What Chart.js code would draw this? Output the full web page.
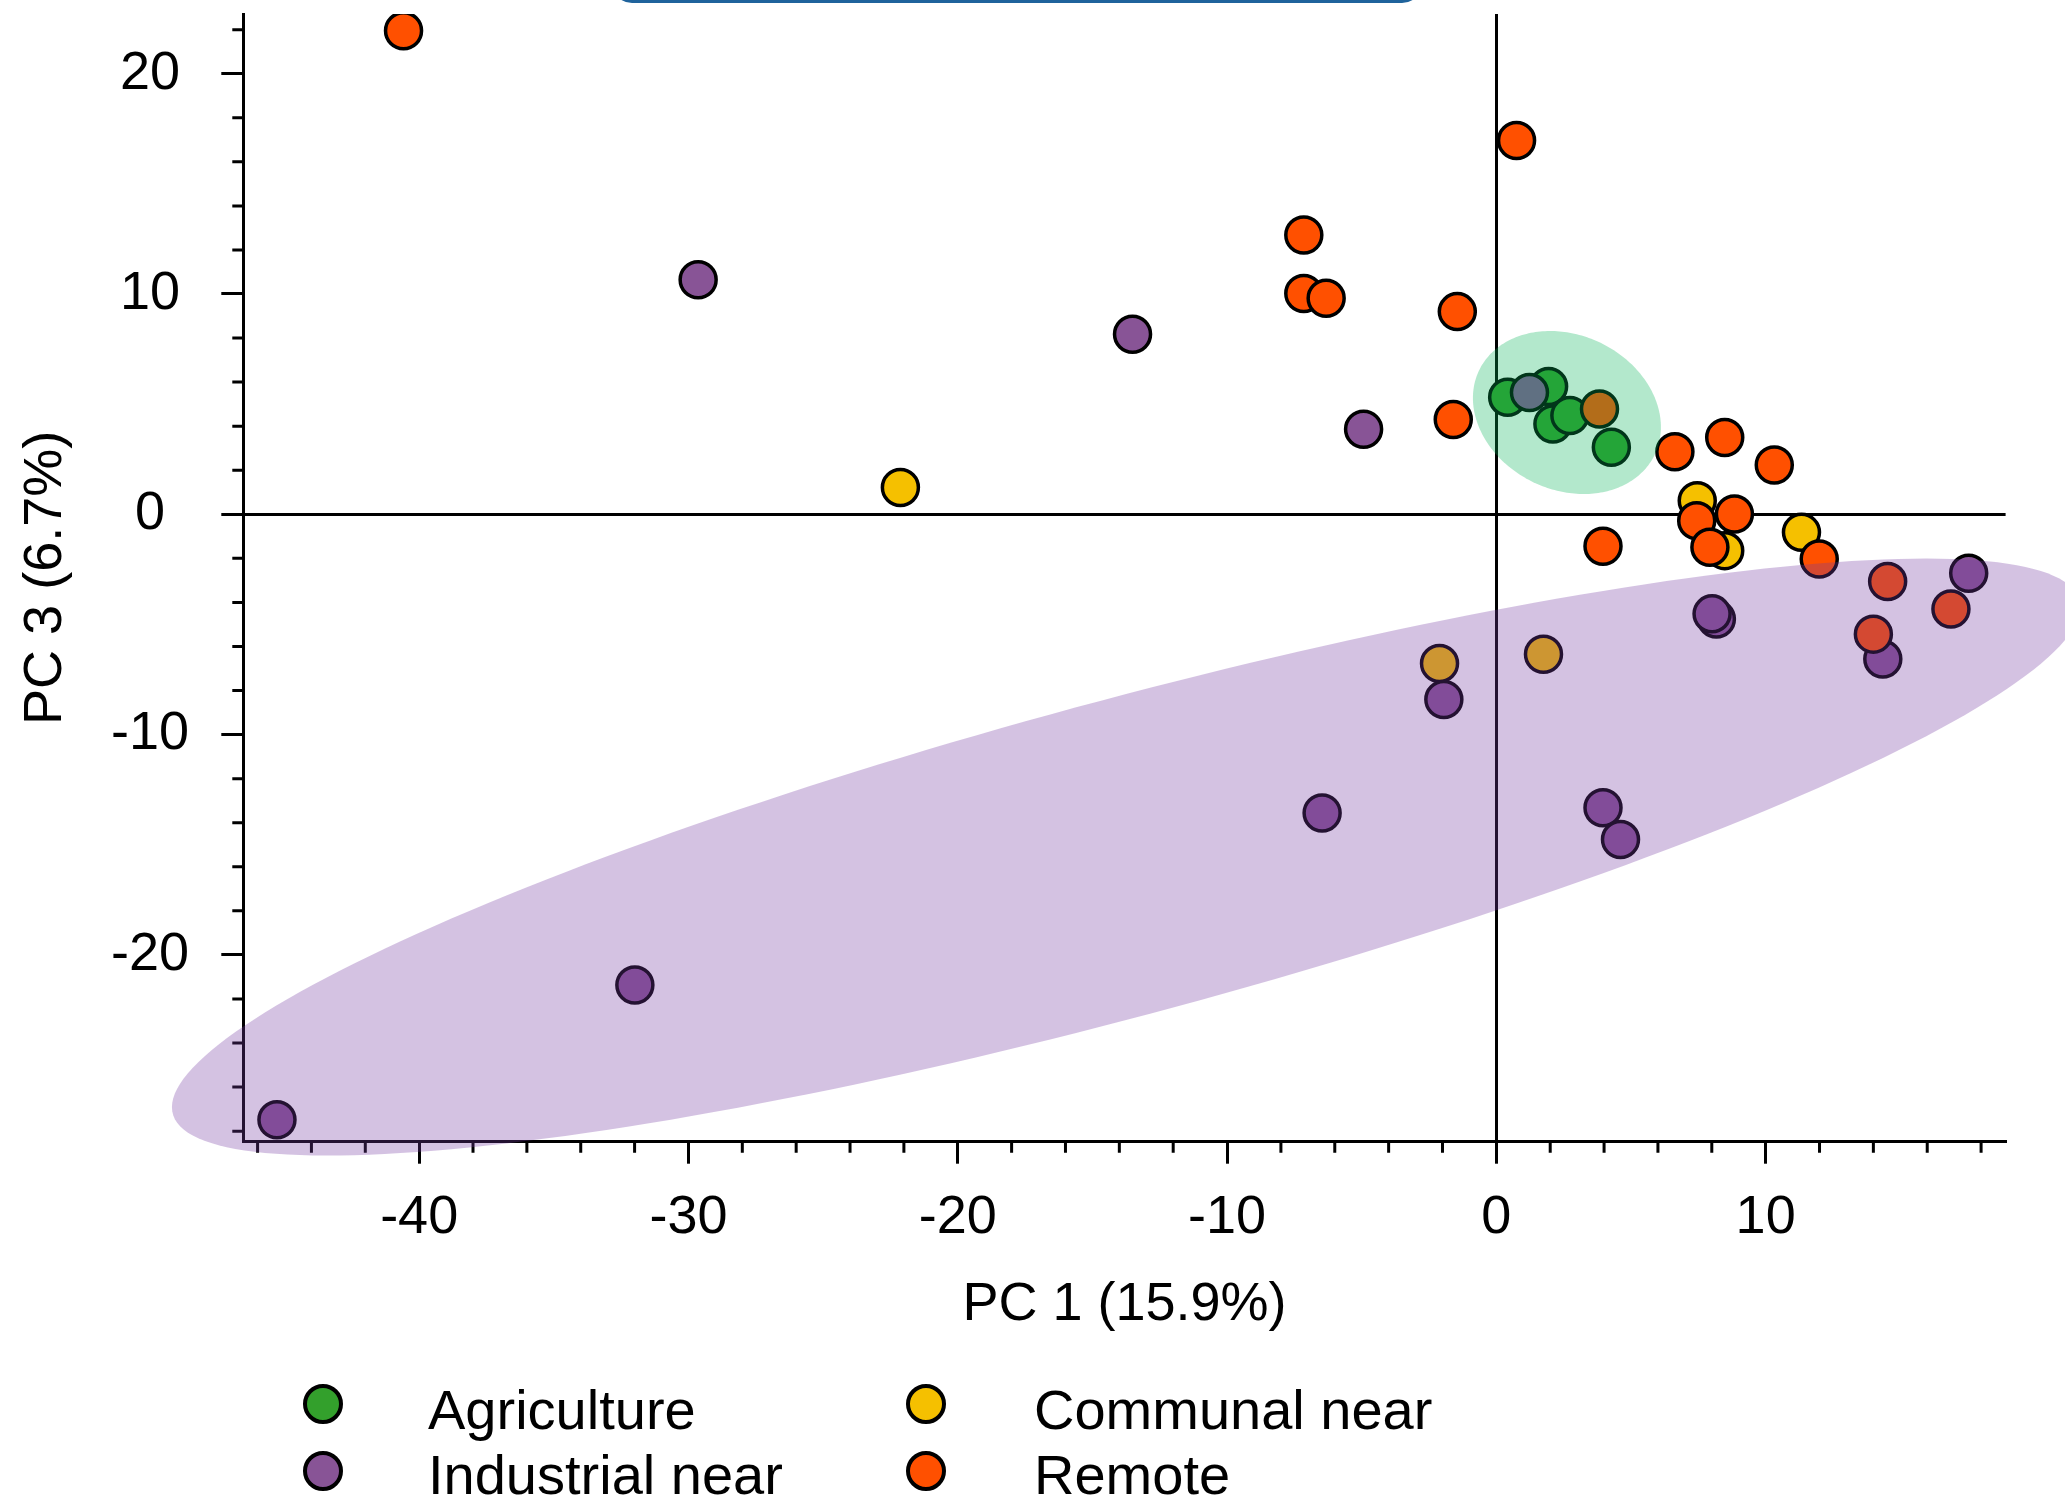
<!DOCTYPE html>
<html>
<head>
<meta charset="utf-8">
<script src="https://cdn.jsdelivr.net/npm/chart.js@4.4.0/dist/chart.umd.min.js"></script>
<style>
    html, body { margin: 0; padding: 0; background: #fff; overflow: hidden; }
    #wrap { position: relative; width: 2065px; height: 1498px; }
    #topbox {
        position: absolute; left: 612px; top: -52px; width: 804px; height: 49px;
        border: 3px solid #1f639c; border-radius: 20px; background: #fff;
    }
    .leg-dot {
        position: absolute; width: 32px; height: 32px; border: 4px solid #000; border-radius: 50%;
    }
    .leg-text {
        position: absolute; font-family: 'Liberation Sans', Arial, sans-serif;
        font-size: 56px; line-height: 56px; color: #000; white-space: nowrap;
    }
</style>
</head>
<body>
<div id="wrap">
    <canvas id="pcaChart"></canvas>
    <div id="topbox"></div>
    <div id="legend"></div>
</div>
<script>
// groups as they appear in the legend
const groups = ['Agriculture', 'Communal near', 'Industrial near', 'Remote'];
const groupColors = ['#33a02c', '#f5c000', '#885496', '#ff5000'];

// PC 1 / PC 3 scores
const agriX = [0.42, 1.94, 2.10, 2.73, 4.27];
const agriY = [5.31, 5.80, 4.10, 4.48, 3.04];

const communalX = [-22.13, 7.46, 8.48, 11.33, -2.11, 1.75];
const communalY = [1.22, 0.62, -1.65, -0.82, -6.77, -6.35];

const industrialX = [-29.64, -13.51, -4.93, -31.99, -45.28, -6.47, 3.96, 4.61, -1.95, 8.17, 8.01, 17.54, 14.35, 1.23];
const industrialY = [10.65, 8.17, 3.86, -21.37, -27.48, -13.56, -13.32, -14.76, -8.41, -4.75, -4.52, -2.68, -6.57, 5.53];

const remoteX = [-40.58, 0.75, -7.15, -7.15, -6.32, -1.45, -1.60, 6.63, 8.48, 10.32, 3.96, 7.44, 8.84, 7.93, 11.99, 3.83, 14.53, 16.88, 14.00];
const remoteY = [21.95, 16.97, 12.68, 10.02, 9.81, 9.20, 4.30, 2.84, 3.49, 2.24, -1.45, -0.29, 0.01, -1.50, -2.03, 4.78, -3.05, -4.30, -5.44];

// axis ranges and tick labels
const xRange = [-46.53, 18.91];
const yRange = [-28.48, 22.71];
const majorStep = 10;
const minorStep = 2;

// group ellipses: centre and two conjugate semi-axes, in data units
const industrialEllipse = { cx: -13.75, cy: -15.56, u: [35.43, 11.35], v: [0, 7.40] };
const agriEllipse = { cx: 2.62, cy: 4.62, u: [3.49, -0.66], v: [0, 3.64] };

const FONT = "'Liberation Sans', Arial, sans-serif";

const toPoints = (xs, ys) => xs.map((x, i) => ({ x: x, y: ys[i] }));

const makeSet = (label, color, xs, ys) => ({
    label: label,
    data: toPoints(xs, ys),
    pointRadius: 18,
    pointHoverRadius: 18,
    pointBorderWidth: 3.5,
    pointBackgroundColor: color,
    pointBorderColor: '#000',
    showLine: false
});

function drawEllipse(chart, e, fill) {
    const { ctx, scales } = chart;
    ctx.save();
    ctx.beginPath();
    for (let i = 0; i <= 240; i++) {
        const t = i / 240 * Math.PI * 2;
        const vx = e.cx + Math.cos(t) * e.u[0] + Math.sin(t) * e.v[0];
        const vy = e.cy + Math.cos(t) * e.u[1] + Math.sin(t) * e.v[1];
        const px = scales.x.getPixelForValue(vx);
        const py = scales.y.getPixelForValue(vy);
        if (i === 0) ctx.moveTo(px, py); else ctx.lineTo(px, py);
    }
    ctx.closePath();
    ctx.fillStyle = fill;
    ctx.fill();
    ctx.restore();
}

// short ticks every 2 units between the labelled ones
const minorTicks = {
    id: 'minorTicks',
    beforeDatasetsDraw(chart) {
        const { ctx, chartArea, scales } = chart;
        ctx.save();
        ctx.strokeStyle = '#000';
        ctx.lineWidth = 3;
        ctx.beginPath();
        for (let v = Math.ceil(xRange[0] / minorStep) * minorStep; v <= xRange[1]; v += minorStep) {
            if (v % majorStep === 0) continue;
            const px = scales.x.getPixelForValue(v);
            ctx.moveTo(px, chartArea.bottom);
            ctx.lineTo(px, chartArea.bottom + 11);
        }
        for (let v = Math.ceil(yRange[0] / minorStep) * minorStep; v <= yRange[1]; v += minorStep) {
            if (v % majorStep === 0) continue;
            const py = scales.y.getPixelForValue(v);
            ctx.moveTo(chartArea.left - 11, py);
            ctx.lineTo(chartArea.left, py);
        }
        ctx.stroke();
        ctx.restore();
    }
};

// translucent ellipses go over everything else
const groupEllipses = {
    id: 'groupEllipses',
    afterDraw(chart) {
        drawEllipse(chart, industrialEllipse, 'rgba(116, 58, 161, 0.31)');
        drawEllipse(chart, agriEllipse, 'rgba(2, 178, 85, 0.30)');
    }
};

const zeroLine = (c) => (c.tick && c.tick.value === 0 ? '#000' : 'rgba(0,0,0,0)');

new Chart(document.getElementById('pcaChart'), {
    type: 'scatter',
    data: {
        datasets: [
            makeSet(groups[3], groupColors[3], remoteX, remoteY),
            makeSet(groups[2], groupColors[2], industrialX, industrialY),
            makeSet(groups[1], groupColors[1], communalX, communalY),
            makeSet(groups[0], groupColors[0], agriX, agriY)
        ]
    },
    options: {
        responsive: true,
        maintainAspectRatio: false,
        animation: false,
        layout: { autoPadding: false, padding: { top: 14, right: 59.4, bottom: 0, left: 0 } },
        plugins: {
            legend: { display: false },
            tooltip: { enabled: false }
        },
        scales: {
            x: {
                type: 'linear',
                position: 'bottom',
                min: xRange[0],
                max: xRange[1],
                afterFit: (s) => { s.height = 356.3; s.paddingLeft = 0; s.paddingRight = 0; },
                border: { display: true, color: '#000', width: 3 },
                grid: {
                    color: zeroLine, lineWidth: 3,
                    tickColor: '#000', tickWidth: 3, tickLength: 22
                },
                ticks: {
                    stepSize: majorStep, includeBounds: false, autoSkip: false, maxRotation: 0,
                    padding: 21.9, color: '#000', font: { family: FONT, size: 54 }
                },
                title: {
                    display: true, text: 'PC 1 (15.9%)', color: '#000',
                    font: { family: FONT, size: 54 }, padding: { top: 0, bottom: 160.6 }
                }
            },
            y: {
                type: 'linear',
                position: 'left',
                min: yRange[0],
                max: yRange[1],
                afterFit: (s) => { s.width = 243.3; s.paddingTop = 0; s.paddingBottom = 0; },
                border: { display: true, color: '#000', width: 3 },
                grid: {
                    color: zeroLine, lineWidth: 3,
                    tickColor: '#000', tickWidth: 3, tickLength: 22
                },
                ticks: {
                    stepSize: majorStep, includeBounds: false, autoSkip: false, crossAlign: 'center',
                    padding: 32.3, color: '#000', font: { family: FONT, size: 54 }
                },
                title: {
                    display: true, text: 'PC 3 (6.7%)', color: '#000',
                    font: { family: FONT, size: 54 }, padding: { top: 13.4, bottom: 0 }
                }
            }
        }
    },
    plugins: [minorTicks, groupEllipses]
});

// legend: two rows, two columns
const legendSlots = [
    { dot: [302.7, 1384], text: [428, 1381.6] },
    { dot: [906, 1384], text: [1034, 1381.6] },
    { dot: [302.7, 1451], text: [428, 1447.4] },
    { dot: [906, 1451], text: [1034, 1447.4] }
];
const legend = document.getElementById('legend');
groups.forEach((name, i) => {
    const slot = legendSlots[i];
    const dot = document.createElement('div');
    dot.className = 'leg-dot';
    dot.style.left = slot.dot[0] + 'px';
    dot.style.top = slot.dot[1] + 'px';
    dot.style.background = groupColors[i];
    legend.appendChild(dot);

    const label = document.createElement('div');
    label.className = 'leg-text';
    label.style.left = slot.text[0] + 'px';
    label.style.top = slot.text[1] + 'px';
    label.textContent = name;
    legend.appendChild(label);
});
</script>
</body>
</html>
